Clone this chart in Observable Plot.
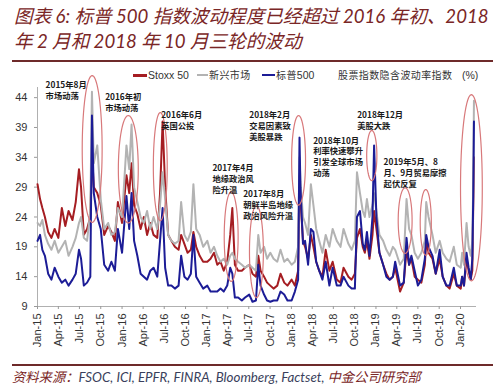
<!DOCTYPE html>
<html><head><meta charset="utf-8">
<script src="https://cdn.jsdelivr.net/npm/d3@7"></script>
<script src="https://cdn.jsdelivr.net/npm/@observablehq/plot@0.6"></script>
<style>
body{margin:0;background:#fff;width:500px;height:391px;position:relative;overflow:hidden;font-family:"Liberation Sans",Arial,sans-serif}
.abs{position:absolute;white-space:nowrap}
.title{left:14px;font-family:Lato,"Noto Sans CJK SC",sans-serif;font-style:italic;font-size:18.6px;color:#7a2626;line-height:22px}
.rule{position:absolute;left:12px;width:481px;height:2px;background:#6e2a2a}
.leg{top:68px;font-size:10.5px;color:#333;line-height:14px}
.sw{position:absolute;height:3px;top:74px}
.cn{font-family:"Noto Sans CJK SC",sans-serif;letter-spacing:0.4px;font-size:10px}
#chart{position:absolute;left:0;top:60px}
.src{left:12px;top:370px;font-family:Lato,"Noto Sans CJK SC",sans-serif;font-style:italic;font-size:13.3px;line-height:15px}
</style></head>
<body>
<div class="abs title" style="top:5px">图表 6: 标普 500 指数波动程度已经超过 2016 年初、2018</div>
<div class="abs title" style="top:30px">年 2 月和 2018 年 10 月三轮的波动</div>
<div class="rule" style="top:60px"></div>
<div class="sw" style="left:133px;width:14px;background:#a51d22"></div>
<div class="abs leg" style="left:148px">Stoxx 50</div>
<div class="sw" style="left:197px;width:11px;background:#b3b3b3;height:2px"></div>
<div class="abs leg cn" style="left:209px">新兴市场</div>
<div class="sw" style="left:262px;width:13px;background:#1c1c96;height:2px"></div>
<div class="abs leg" style="left:276px"><span class="cn">标普</span>500</div>
<div class="abs leg cn" style="left:338px">股票指数隐含波动率指数</div>
<div class="abs leg" style="left:462px">(%)</div>
<div id="chart"></div>
<div class="rule" style="top:364px"></div>
<div class="abs src"><span style="color:#7a2626">资料来源：</span><span style="color:#3a3f5c">FSOC, ICI, EPFR, FINRA, Bloomberg, Factset, </span><span style="color:#7a2626">中金公司研究部</span></div>
<script>
const dates = [
"2015-01-01","2015-01-12","2015-01-22","2015-02-02","2015-02-16","2015-03-02","2015-03-16","2015-04-01","2015-04-16","2015-05-01","2015-05-15","2015-06-01","2015-06-15","2015-06-29","2015-07-08","2015-07-20","2015-08-03","2015-08-17","2015-08-24","2015-09-01","2015-09-16","2015-10-01","2015-10-16","2015-11-02","2015-11-16","2015-12-01","2015-12-14",
"2016-01-01","2016-01-20","2016-02-01","2016-02-11","2016-02-22","2016-03-07","2016-03-21","2016-04-04","2016-04-18","2016-05-02","2016-05-16","2016-06-01","2016-06-13","2016-06-24","2016-07-05","2016-07-18","2016-08-01","2016-08-16","2016-09-01","2016-09-12","2016-09-26","2016-10-10","2016-10-24","2016-11-04","2016-11-16","2016-12-01","2016-12-16",
"2017-01-03","2017-01-17","2017-02-01","2017-02-15","2017-03-01","2017-03-15","2017-03-30","2017-04-12","2017-04-21","2017-05-02","2017-05-16","2017-06-01","2017-06-15","2017-07-03","2017-07-17","2017-08-01","2017-08-11","2017-08-21","2017-09-05","2017-09-18","2017-10-02","2017-10-16","2017-11-01","2017-11-15","2017-12-01","2017-12-15",
"2018-01-02","2018-01-16","2018-01-30","2018-02-05","2018-02-09","2018-02-20","2018-03-01","2018-03-14","2018-03-26","2018-04-06","2018-04-18","2018-05-01","2018-05-15","2018-05-29","2018-06-14","2018-06-28","2018-07-16","2018-08-01","2018-08-14","2018-09-04","2018-09-18","2018-10-02","2018-10-11","2018-10-24","2018-11-05","2018-11-14","2018-11-23","2018-12-04","2018-12-17","2018-12-24",
"2019-01-03","2019-01-16","2019-02-01","2019-02-15","2019-03-01","2019-03-15","2019-03-25","2019-04-15","2019-05-01","2019-05-13","2019-05-24","2019-06-03","2019-06-17","2019-07-01","2019-07-16","2019-07-31","2019-08-06","2019-08-16","2019-09-02","2019-09-16","2019-10-03","2019-10-16","2019-11-01","2019-11-15","2019-12-03","2019-12-16",
"2020-01-02","2020-01-08","2020-01-16","2020-01-27","2020-02-05","2020-02-14","2020-02-21","2020-02-25","2020-02-28"];
const stoxx50 = [
29.5,27,25.5,24,21.5,20.5,22,20.5,25.5,22.5,25,23.5,26.5,32,29,21,22,24,35,29,28,26,21,22.5,21.5,20,26.5,
23,31,28,33,26,24.5,22,24,21,23,21,20.5,28,40,29,21,20,19,18.5,21,19.5,18,18.5,21.5,19,17.5,16.5,
16.5,17,18,16,16.5,15,16.5,21,25.5,16,15,15,15.5,16,14.5,14,17.5,15,14,13,12.5,12,12.5,14.5,13,12.5,
13.5,12.5,15,31,27,20,19,17,21,19,16.5,15,14,18.5,15,16.5,13.5,13,15.5,14,13.5,14.5,20.5,22,19,18,20,17,21,25,
22,18,16,14.5,13.5,14,15.5,11.5,13,18.5,16,17,14,13.5,13,16,20,18,17,14.5,17,14,12.5,12,14.5,12.5,
12,14,12.5,17,15,13.5,15,26,34];
const emerging = [
23,22.5,23.5,21,19.5,18.5,20,18,19,20,17.5,19,20.5,23,24,20.5,20,25,45,33,36,27,22,23,21,21.5,25.5,
24,36,32,39.5,29,26.5,24,23,25,22,24,22,26,31.5,27,21,20,19.5,20,26.5,21,20,21.5,29.5,22,21,19,
20,18,19,17.5,16.5,17,16,17.5,18,17,16.5,16,15.5,16,15.5,15,21,18,19,17,18,17,16.5,18.5,16.5,17,
16,16.5,19,34,30,24,23,21,29.5,26,22,20,18,21,19,22,20,19,22,19.5,18.5,20,31.5,28,25,24,27,24,26,28,
25,21,20,18.5,17.5,19,18.5,16,17,27,22,21,18,17,18,20,26.5,24,21,18,20,18,17,16.5,19,16,
15.5,18,16,23,19,17.5,20,30,43.5];
const sp500 = [
20,21,18.5,17.5,14.5,13.5,15.5,14,13,13.5,12.5,13.5,14.5,18.5,17,12.5,13,14,41,28,24,22,16,15,16.5,15,22,
18,27.5,22,28,20,17.5,14.5,14,13.5,15,15.5,14,20,25.5,15.5,12.5,12.5,12,12.5,17.5,14,13.5,14.5,21,14,13,12,
12.5,11.5,11.5,11.5,12,11.5,12.5,15.5,14.5,10.5,10.5,10,10.5,11,9.8,10,16,12.5,11,10,9.8,10,10,11.5,11,10,
10,11.5,13.5,37.3,29,19.5,20,16,22,21.5,16.5,15,13.5,16.5,12.5,15.5,12.5,12.5,14,12.5,12,12,24,25,19.5,18.5,21.5,17.5,24,36,
24,18,16,14,13.5,14,16.5,12.5,13,20.5,16,17.5,15,12.5,13.5,17,21,19,17.5,14.5,18.5,14,12.5,12.5,15.5,12.5,
12.5,14,12.5,18,15.5,13.5,17,27.5,40];
const seriesNames = ["Stoxx 50","新兴市场","标普500"];
const seriesColors = ["#a51d22","#b3b3b3","#1c1c96"];
const yTicks = [9,14,19,24,29,34,39,44];
const xTickDates = ["2015-01-01","2015-04-01","2015-07-01","2015-10-01","2016-01-01","2016-04-01","2016-07-01","2016-10-01","2017-01-01","2017-04-01","2017-07-01","2017-10-01","2018-01-01","2018-04-01","2018-07-01","2018-10-01","2019-01-01","2019-04-01","2019-07-01","2019-10-01","2020-01-01"];
// annotations
const annoDates = ["2015-02-05","2015-10-20","2016-06-18","2017-01-25","2017-06-07","2017-07-03","2018-04-05","2018-10-12","2019-02-03"];
const annoValues = [46.9,44.85,41.8,32.95,28.6,41.8,37.6,41.8,33.96];
const annoTexts = ["2015年8月\n市场动荡","2016年初\n市场动荡","2016年6月\n英国公投","2017年4月\n地缘政治风\n险升温","2017年8月\n朝鲜半岛地缘\n政治风险升温","2018年2月\n交易因素致\n美股暴跌","2018年10月\n利率快速攀升\n引发全球市场\n动荡","2018年12月\n美股大跌","2019年5月、8\n月、9月贸易摩擦\n起伏反复"];
const ellDates = ["2015-08-25","2016-01-28","2016-06-14","2017-04-16","2017-08-03","2018-02-01","2018-12-14","2019-05-07","2019-08-04","2020-02-17"];
const ellValues = [35.4,32.0,32.45,20.7,18.2,33.5,34.3,23.4,23.1,28.9];
const ellHalfDays = [43,43,30,30,30,30,22,30,24,47];
const ellHalfVals = [12.3,9.0,9.05,7.5,7.7,7.5,4.2,5.5,5.5,15.6];

const allSeries = [stoxx50, emerging, sp500];
const lineData = allSeries.map(vals => dates.map((d,i)=>({date:new Date(d), v: vals[i]})));
const ellPts = [];
ellDates.forEach((d,j)=>{
  const c = new Date(d).getTime();
  for(let k=0;k<=72;k++){
    const t = 2*Math.PI*k/72;
    ellPts.push({id:j, date:new Date(c + ellHalfDays[j]*86400000*Math.cos(t)), v: ellValues[j] + ellHalfVals[j]*Math.sin(t)});
  }
});
const anno = annoDates.map((d,i)=>({date:new Date(d), v:annoValues[i], text:annoTexts[i]}));

const chart = Plot.plot({
  width: 500, height: 300,
  marginLeft: 37, marginRight: 24, marginTop: 27, marginBottom: 54,
  style: {fontFamily: '"Liberation Sans", Arial, sans-serif', color: "#333", background: "transparent", overflow: "visible"},
  x: {type: "utc", domain: [new Date("2015-01-01"), new Date("2020-03-10")]},
  y: {domain: [9, 45.7]},
  marks: [
    Plot.ruleY([9], {stroke: "#b0b0b0", strokeWidth: 1}),
    Plot.ruleX([new Date("2015-01-01")], {stroke: "#b0b0b0", strokeWidth: 1}),
    Plot.axisY({ticks: yTicks, tickSize: 3, tickPadding: 7, fontSize: 11, label: null, stroke: "#999"}),
    Plot.axisX({ticks: xTickDates.map(d=>new Date(d)), tickFormat: d3.utcFormat("%b-%y"), tickRotate: -90, tickSize: 3, tickPadding: 4, fontSize: 11, label: null, stroke: "#999"}),
    ...lineData.map((data,i)=>Plot.line(data, {x:"date", y:"v", stroke: seriesColors[i], strokeWidth: 2, strokeLinejoin:"round", title: ()=>seriesNames[i]})),
    Plot.line(ellPts, {x:"date", y:"v", z:"id", stroke:"#d8797b", strokeWidth: 1.2, curve:"linear-closed"}),
    Plot.text(anno, {x:"date", y:"v", text:"text", textAnchor:"start", lineAnchor:"top", fontSize: 8.3, fontWeight: "bold", lineHeight: 1.3, fill:"#1a1a1a", fontFamily:'"Noto Sans CJK SC", sans-serif'})
  ]
});
document.getElementById("chart").appendChild(chart);
</script>
</body></html>
